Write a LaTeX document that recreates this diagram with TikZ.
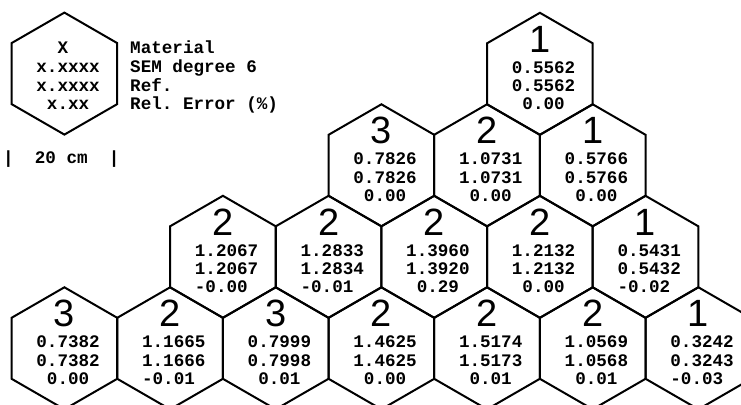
\documentclass[tikz,border=0pt]{standalone}
\usepackage{fontspec}
\usetikzlibrary{shapes.geometric,calc}
\newfontfamily\cellmono{Liberation Mono}
\newfontfamily\digitsans{Liberation Sans}
\frenchspacing
% one blank character cell of the monospaced font
\newcommand\padsp{\hphantom{0}}

% a hexagonal cell: name, x, y, material, SEM value, reference, relative error
\newcommand\drawcell[7]{%
  \node[hexcell] (#1) at (#2,#3) {};
  \node[bignum] (#1-mat) at ($(#1.center)+(0,-21.5)$) {#4};
  \node[celltext] (#1-sem) at ($(#1.center)+(-28.2,-0.5)$) {#5};
  \node[celltext] (#1-ref) at ($(#1.center)+(-28.2,17.8)$) {#6};
  \node[celltext] (#1-err) at ($(#1.center)+(-28.2,36)$) {#7};
}

\begin{document}
\begin{tikzpicture}[x=1pt,y=-1pt,
  hexcell/.style={draw, line width=2pt, regular polygon, regular polygon sides=6,
    shape border rotate=30, minimum size=122pt, inner sep=0pt, outer sep=0pt},
  bignum/.style={font=\digitsans\fontsize{38}{38}\selectfont, inner sep=0pt, anchor=base},
  celltext/.style={font=\cellmono\bfseries\fontsize{17.6}{18}\selectfont, inner sep=0pt, anchor=base west},
]
\useasboundingbox (0,0) rectangle (741,404);
\clip (0,0) rectangle (741,404);

% legend
\node[hexcell] (leg) at (64.4,73.6) {};
\node[celltext] (leg-mat) at ($(leg.center)+(-28.2,-19.6)$) {\padsp\padsp X};
\node[celltext] (leg-sem) at ($(leg.center)+(-28.2,-1.1)$) {x.xxxx};
\node[celltext] (leg-ref) at ($(leg.center)+(-28.2,17.4)$) {x.xxxx};
\node[celltext] (leg-err) at ($(leg.center)+(-28.2,35.9)$) {\padsp x.xx};
\node[celltext] (lab-mat) at (130,54) {Material};
\node[celltext] (lab-sem) at (130,72.5) {SEM degree 6};
\node[celltext] (lab-ref) at (130,91) {Ref.};
\node[celltext] (lab-err) at (130,109.5) {Rel. Error (\%)};
\node[celltext] (scalebar) at (3,163.5) {|\padsp\padsp 20 cm\padsp\padsp|};

% top row
\drawcell{d1}{539.9}{73.8}{1}{0.5562}{0.5562}{\padsp 0.00}
% third row
\drawcell{c1}{381.4}{165.3}{3}{0.7826}{0.7826}{\padsp 0.00}
\drawcell{c2}{487.0}{165.3}{2}{1.0731}{1.0731}{\padsp 0.00}
\drawcell{c3}{592.7}{165.3}{1}{0.5766}{0.5766}{\padsp 0.00}
% second row
\drawcell{b1}{222.9}{256.8}{2}{1.2067}{1.2067}{-0.00}
\drawcell{b2}{328.6}{256.8}{2}{1.2833}{1.2834}{-0.01}
\drawcell{b3}{434.2}{256.8}{2}{1.3960}{1.3920}{\padsp 0.29}
\drawcell{b4}{539.9}{256.8}{2}{1.2132}{1.2132}{\padsp 0.00}
\drawcell{b5}{645.5}{256.8}{1}{0.5431}{0.5432}{-0.02}
% bottom row
\drawcell{a1}{64.4}{348.3}{3}{0.7382}{0.7382}{\padsp 0.00}
\drawcell{a2}{170.1}{348.3}{2}{1.1665}{1.1666}{-0.01}
\drawcell{a3}{275.7}{348.3}{3}{0.7999}{0.7998}{\padsp 0.01}
\drawcell{a4}{381.4}{348.3}{2}{1.4625}{1.4625}{\padsp 0.00}
\drawcell{a5}{487.0}{348.3}{2}{1.5174}{1.5173}{\padsp 0.01}
\drawcell{a6}{592.7}{348.3}{2}{1.0569}{1.0568}{\padsp 0.01}
\drawcell{a7}{698.4}{348.3}{1}{0.3242}{0.3243}{-0.03}
\end{tikzpicture}
\end{document}
